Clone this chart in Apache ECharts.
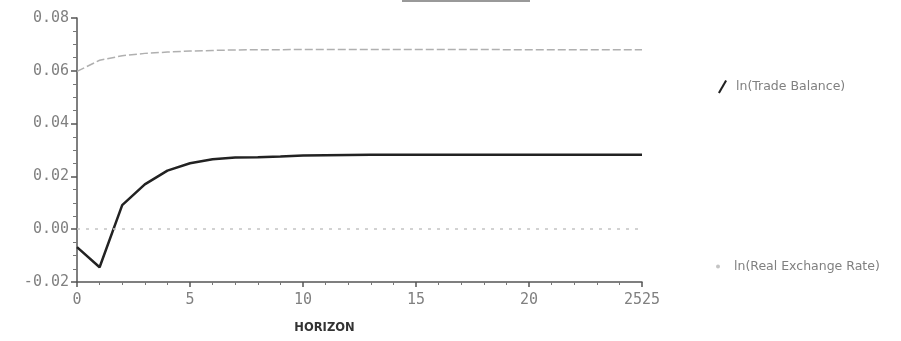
<!DOCTYPE html>
<html>
<head>
<meta charset="utf-8">
<script src="https://cdn.jsdelivr.net/npm/echarts@6/dist/echarts.min.js"></script>
<style>
  html, body { margin: 0; padding: 0; background: #fff; }
  #chart { width: 901px; height: 341px; }
</style>
</head>
<body>
<div id="chart"></div>
<script>
// impulse responses over the horizon
const horizon = [0, 1, 2, 3, 4, 5, 6, 7, 8, 9, 10, 11, 12, 13, 14, 15, 16, 17, 18, 19, 20, 21, 22, 23, 24, 25];
const tradeBalance = [-0.0068, -0.0144, 0.0091, 0.0170, 0.0222, 0.0250, 0.0265, 0.0272, 0.0273, 0.0275,
  0.0279, 0.0280, 0.0281, 0.0282, 0.0282, 0.0282, 0.0282, 0.0282, 0.0282, 0.0282,
  0.0282, 0.0282, 0.0282, 0.0282, 0.0282, 0.0282];
const realExRate = [0.0598, 0.0640, 0.0657, 0.0666, 0.0671, 0.0675, 0.0677, 0.0679, 0.0680, 0.0680,
  0.0681, 0.0681, 0.0681, 0.0681, 0.0681, 0.0681, 0.0681, 0.0681, 0.0681, 0.0680,
  0.0680, 0.0680, 0.0680, 0.0680, 0.0680, 0.0680];
const xTickLabels = { 0: '0', 5: '5', 10: '10', 15: '15', 20: '20', 25: '2525' };
const yTickLabels = { '-0.02': '-0.02', '0': '0.00', '0.02': '0.02', '0.04': '0.04', '0.06': '0.06', '0.08': '0.08' };

const chart = echarts.init(document.getElementById('chart'));
const labelFont = { color: '#808080', fontSize: 15, fontFamily: 'DejaVu Sans Mono' };
const legendFont = { color: '#808080', fontSize: 12.5, fontFamily: 'DejaVu Sans' };

chart.setOption({
  animation: false,
  grid: { left: 77, right: 259, top: 18, bottom: 59 },
  graphic: [
    // stray underline of the cropped title
    { type: 'rect', left: 402, top: 0, shape: { width: 128, height: 2 }, style: { fill: '#999' } }
  ],
  legend: [
    {
      left: 713, top: 75, itemWidth: 9, itemHeight: 14, itemGap: 0,
      icon: 'path://M0,14 L8,0 L10,1 L2,15 Z',
      textStyle: Object.assign({ padding: [0, 0, 0, 4] }, legendFont),
      data: ['ln(Trade Balance)']
    },
    {
      left: 711, top: 255, itemWidth: 4, itemHeight: 4, itemGap: 0, icon: 'circle',
      textStyle: Object.assign({ padding: [0, 0, 0, 9] }, legendFont),
      data: ['ln(Real Exchange Rate)']
    }
  ],
  xAxis: {
    type: 'value', min: 0, max: 25, interval: 5,
    name: 'HORIZON', nameLocation: 'middle', nameGap: 40,
    nameTextStyle: { color: '#333', fontSize: 11.5, fontWeight: 'bold', fontFamily: 'DejaVu Sans', padding: [0, 70, 0, 0] },
    axisLine: { onZero: false, lineStyle: { color: '#555', width: 1.5 } },
    axisTick: { length: 5, lineStyle: { color: '#555', width: 1.5 } },
    minorTick: { show: true, splitNumber: 5, length: 3, lineStyle: { color: '#777' } },
    axisLabel: Object.assign({ margin: 11, formatter: (v) => xTickLabels[v] ?? '' }, labelFont),
    splitLine: { show: false }
  },
  yAxis: {
    type: 'value', min: -0.02, max: 0.08, interval: 0.02,
    axisLine: { show: true, lineStyle: { color: '#555', width: 1.5 } },
    axisTick: { length: 6, lineStyle: { color: '#555', width: 1.5 } },
    minorTick: { show: true, splitNumber: 4, length: 4, lineStyle: { color: '#777' } },
    axisLabel: Object.assign({ margin: 8, formatter: (v) => yTickLabels[String(Math.round(v * 100) / 100)] ?? '' }, labelFont),
    splitLine: { show: false }
  },
  series: [
    {
      name: 'ln(Trade Balance)', type: 'line', showSymbol: false,
      data: horizon.map((h, i) => [h, tradeBalance[i]]),
      lineStyle: { color: '#222', width: 2.5 },
      itemStyle: { color: '#222' },
      markLine: {
        silent: true, symbol: 'none', label: { show: false },
        lineStyle: { color: '#c4c4c4', type: [3, 6], width: 1.5 },
        data: [{ yAxis: 0 }]
      }
    },
    {
      name: 'ln(Real Exchange Rate)', type: 'line', showSymbol: false,
      data: horizon.map((h, i) => [h, realExRate[i]]),
      lineStyle: { color: '#b0b0b0', width: 1.5, type: [8, 3] },
      itemStyle: { color: '#c4c4c4' }
    }
  ]
});
</script>
</body>
</html>
